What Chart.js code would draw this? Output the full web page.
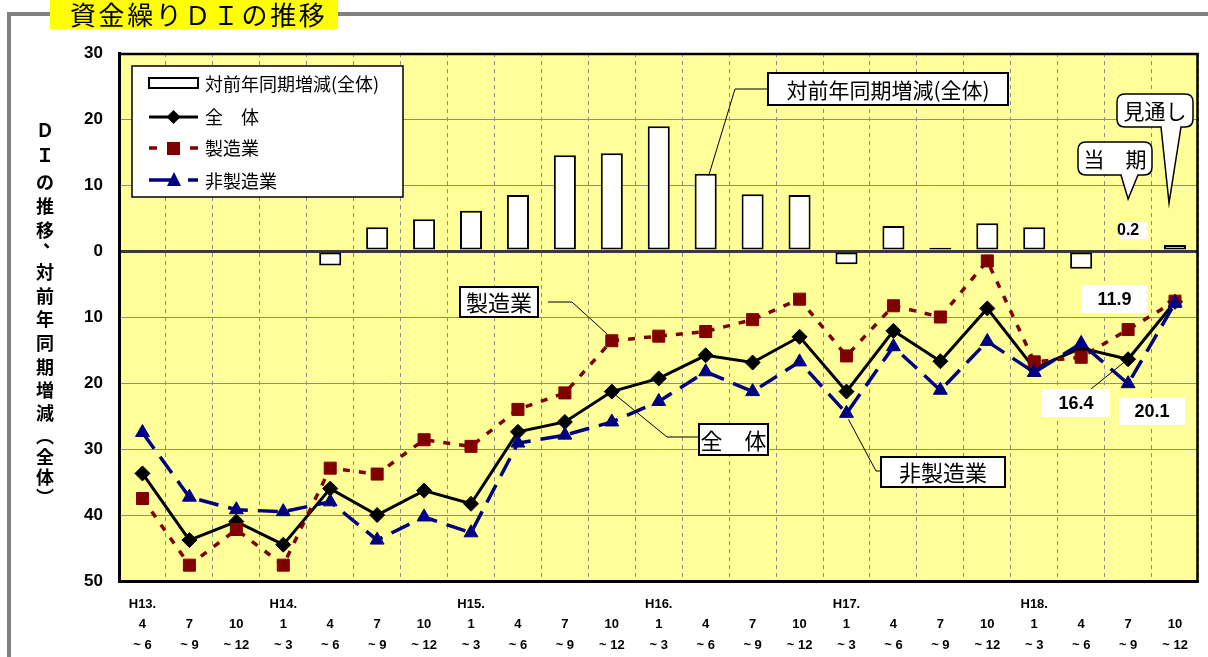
<!DOCTYPE html>
<html><head><meta charset="utf-8">
<script src="https://cdn.jsdelivr.net/npm/chart.js@4/dist/chart.umd.min.js"></script>
<style>html,body{margin:0;padding:0;background:#fff;}canvas{display:block}</style>
</head><body>
<canvas id="c" width="1208" height="657"></canvas>
<script>
// ---- data ----
const yearLabels  = ['H13.','','','H14.','','','','H15.','','','','H16.','','','','H17.','','','','H18.','','',''];
const startLabels = ['4','7','10','1','4','7','10','1','4','7','10','1','4','7','10','1','4','7','10','1','4','7','10'];
const endLabels   = ['~ 6','~ 9','~ 12','~ 3','~ 6','~ 9','~ 12','~ 3','~ 6','~ 9','~ 12','~ 3','~ 6','~ 9','~ 12','~ 3','~ 6','~ 9','~ 12','~ 3','~ 6','~ 9','~ 12'];
const yTicks = [30,20,10,0,-10,-20,-30,-40,-50];

// 対前年同期増減（全体）
const changeAll = [null,null,null,null,-2.2,3.6,4.8,6.1,8.5,14.5,14.8,18.9,11.7,8.6,8.5,-2.0,3.8,0.5,4.2,3.6,-2.7,0.2,0.9];
// 全体
const diAll    = [-33.7,-43.8,-41.0,-44.5,-36.0,-40.0,-36.3,-38.3,-27.4,-25.9,-21.3,-19.3,-15.8,-16.9,-13.0,-21.3,-12.1,-16.7,-8.7,-17.8,-14.7,-16.4,-7.7];
// 製造業
const diMfg    = [-37.5,-47.6,-42.2,-47.6,-32.9,-33.8,-28.6,-29.6,-24.0,-21.5,-13.6,-12.9,-12.2,-10.4,-7.3,-15.9,-8.3,-10.0,-1.5,-16.8,-16.1,-11.9,-7.6];
// 非製造業
const diNonMfg = [-27.5,-37.3,-39.2,-39.5,-38.0,-43.8,-40.3,-42.7,-29.1,-27.9,-25.9,-22.8,-18.3,-21.3,-16.8,-24.6,-14.5,-21.1,-13.7,-18.4,-14.0,-20.1,-7.9];

const seriesNames = ['対前年同期増減(全体)','全　体','製造業','非製造業'];
const titleText = '資金繰りＤＩの推移';
const yTitleChars = ['Ｄ','Ｉ','の','推','移','、','対','前','年','同','期','増','減','︵','全','体','︶'];

const labels = startLabels.map((s,i)=>[yearLabels[i], s, endLabels[i]]);

const JP = '"Noto Sans CJK JP","Noto Sans",sans-serif';
const NUM = '"Liberation Sans",Arial,sans-serif';
const RED = '#800000', NAVY = '#000080';

function poly(ctx, pts, w, color){
  ctx.save(); ctx.beginPath(); ctx.lineWidth = w||1; ctx.strokeStyle = color||'#000';
  ctx.moveTo(pts[0][0], pts[0][1]);
  for (let i=1;i<pts.length;i++) ctx.lineTo(pts[i][0], pts[i][1]);
  ctx.stroke(); ctx.restore();
}
function textBox(ctx, x, y, w, h, text, font, border){
  ctx.save();
  ctx.fillStyle = '#fff'; ctx.fillRect(x, y, w, h);
  if (border){ ctx.lineWidth = 2; ctx.strokeStyle = '#000'; ctx.strokeRect(x, y, w, h); }
  ctx.fillStyle = '#000'; ctx.font = font; ctx.textAlign = 'center'; ctx.textBaseline = 'middle';
  ctx.fillText(text, x + w/2, y + h/2 + 1);
  ctx.restore();
}
function bubble(ctx, x, y, w, h, tail, text){
  const r = 8;
  ctx.save();
  ctx.beginPath();
  ctx.moveTo(x + r, y);
  ctx.lineTo(x + w - r, y); ctx.quadraticCurveTo(x + w, y, x + w, y + r);
  ctx.lineTo(x + w, y + h - r); ctx.quadraticCurveTo(x + w, y + h, x + w - r, y + h);
  ctx.lineTo(tail[2], y + h);
  ctx.lineTo(tail[3], tail[4]);
  ctx.lineTo(tail[0], y + h);
  ctx.lineTo(x + r, y + h); ctx.quadraticCurveTo(x, y + h, x, y + h - r);
  ctx.lineTo(x, y + r); ctx.quadraticCurveTo(x, y, x + r, y);
  ctx.closePath();
  ctx.fillStyle = '#fff'; ctx.fill();
  ctx.lineWidth = 1.5; ctx.strokeStyle = '#000'; ctx.stroke();
  ctx.fillStyle = '#000'; ctx.font = '21px ' + JP; ctx.textAlign = 'center'; ctx.textBaseline = 'middle';
  ctx.fillText(text, x + w/2, y + h/2 + 1);
  ctx.restore();
}

const decor = {
  id: 'decor',
  beforeDraw(chart){
    const {ctx, chartArea:a} = chart;
    ctx.save();
    ctx.fillStyle = '#fff'; ctx.fillRect(0,0,chart.width,chart.height);
    ctx.fillStyle = '#FFFF99'; ctx.fillRect(a.left, a.top, a.right-a.left, a.bottom-a.top);
    ctx.restore();
  },
  afterDraw(chart){
    const {ctx, chartArea:a} = chart;
    const xs = chart.scales.x, ys = chart.scales.y;
    const X = i => xs.getPixelForValue(i), Y = v => ys.getPixelForValue(v);
    ctx.save();
    // plot frame top/right
    poly(ctx, [[a.left, a.top+1],[a.right-1, a.top+1],[a.right-1, a.bottom]], 2.5, '#000');

    // outer grey frame and title
    poly(ctx, [[9, 657],[9, 14],[50, 14]], 4, '#808080');
    poly(ctx, [[338, 14],[1208, 14]], 4, '#808080');
    ctx.fillStyle = '#FFFF00'; ctx.fillRect(50, 0, 288, 29);
    ctx.fillStyle = '#000'; ctx.font = '26px ' + JP; ctx.textAlign = 'center'; ctx.textBaseline = 'middle';
    [...titleText].forEach((ch, i) => ctx.fillText(ch, 83 + i*28.6, 15));

    // vertical y-axis title
    ctx.font = 'bold 18px ' + JP;
    const yPos = [130,155,182,206,230,244,272,296,319,343,367,390,413,436,457,477,497];
    yTitleChars.forEach((ch,i)=>{
      if (ch === '、') { ctx.fillText(ch, 52, yPos[i]-4); }
      else ctx.fillText(ch, 45, yPos[i]);
    });

    // legend
    ctx.fillStyle = '#fff'; ctx.fillRect(132, 66, 271, 131);
    ctx.lineWidth = 1.5; ctx.strokeStyle = '#000'; ctx.strokeRect(132, 66, 271, 131);
    ctx.fillStyle = '#fff'; ctx.fillRect(149, 78, 49, 10);
    ctx.lineWidth = 2; ctx.strokeRect(149, 78, 49, 10);
    poly(ctx, [[149,117],[198,117]], 3, '#000');
    ctx.fillStyle = '#000'; ctx.beginPath();
    ctx.moveTo(173.5,110); ctx.lineTo(180.5,117); ctx.lineTo(173.5,124); ctx.lineTo(166.5,117); ctx.closePath(); ctx.fill();
    poly(ctx, [[149,148],[157,148]], 3.5, RED);
    poly(ctx, [[190,148],[198,148]], 3.5, RED);
    ctx.fillStyle = RED; ctx.fillRect(167, 142, 13, 13);
    poly(ctx, [[149,180],[175,180]], 3.5, NAVY);
    poly(ctx, [[188,180],[198,180]], 3.5, NAVY);
    ctx.fillStyle = NAVY; ctx.beginPath();
    ctx.moveTo(174,172); ctx.lineTo(181,186); ctx.lineTo(167,186); ctx.closePath(); ctx.fill();
    ctx.fillStyle = '#000'; ctx.font = '18px ' + JP; ctx.textAlign = 'left'; ctx.textBaseline = 'middle';
    ctx.fillText(seriesNames[0], 205, 84);
    ctx.fillText(seriesNames[1], 205, 117);
    ctx.fillText(seriesNames[2], 205, 148);
    ctx.fillText(seriesNames[3], 205, 181);

    // callouts with leader lines
    poly(ctx, [[768,89],[735,89],[X(12)+3, Y(changeAll[12])+2]], 1, '#000');
    textBox(ctx, 768, 73, 240, 32, seriesNames[0], '21px ' + JP, true);

    poly(ctx, [[548,302],[572,302],[X(10)-5, Y(diMfg[10])-7]], 1, '#000');
    textBox(ctx, 460, 287, 78, 30, seriesNames[2], '22px ' + JP, true);

    poly(ctx, [[X(10)+2, Y(diAll[10])+2],[667,437],[699,437]], 1, '#000');
    textBox(ctx, 699, 424, 69, 31, seriesNames[1], '22px ' + JP, true);

    poly(ctx, [[X(15)+2, Y(diNonMfg[15])+6],[876,471],[881,471]], 1, '#000');
    textBox(ctx, 881, 457, 124, 30, seriesNames[3], '22px ' + JP, true);

    // value labels
    ctx.fillStyle = '#fff'; ctx.fillRect(1120, 222, 27, 17);
    ctx.fillStyle = '#000'; ctx.font = 'bold 16px ' + NUM; ctx.textAlign = 'center'; ctx.textBaseline = 'middle';
    ctx.fillText(String(changeAll[21]), X(21), 231);

    textBox(ctx, 1082, 285, 65, 28, Math.abs(diMfg[21]).toFixed(1), 'bold 18px ' + NUM, false);
    poly(ctx, [[1091,389],[X(21)-4, Y(diAll[21])+3]], 1, '#000');
    textBox(ctx, 1042, 389, 68, 28, Math.abs(diAll[21]).toFixed(1), 'bold 18px ' + NUM, false);
    textBox(ctx, 1119, 398, 66, 27, Math.abs(diNonMfg[21]).toFixed(1), 'bold 18px ' + NUM, false);

    // speech bubbles
    bubble(ctx, 1078, 142, 74, 33, [1121, 0, 1138, X(21), 199], '当　期');
    bubble(ctx, 1117, 94, 76, 33, [1161, 0, 1181, X(22)-6, 203], '見通し');
    ctx.restore();
  }
};

new Chart(document.getElementById('c'), {
  data: {
    labels: labels,
    datasets: [
      { type:'bar', label: seriesNames[0], data: changeAll, backgroundColor:'#fff', borderColor:'#000',
        borderWidth:2, borderSkipped:false, categoryPercentage:0.47, barPercentage:1, order:4 },
      { type:'line', label: seriesNames[1], data: diAll, borderColor:'#000', borderWidth:3, tension:0,
        pointStyle:'rectRot', pointRadius:7.5, pointBackgroundColor:'#000', pointBorderColor:'#000', pointBorderWidth:1, order:3 },
      { type:'line', label: seriesNames[2], data: diMfg, borderColor:RED, borderWidth:3.5, borderDash:[7,9], tension:0,
        pointStyle:'rect', pointRadius:8.5, pointBackgroundColor:RED, pointBorderColor:RED, pointBorderWidth:1, order:2 },
      { type:'line', label: seriesNames[3], data: diNonMfg, borderColor:NAVY, borderWidth:3.5, borderDash:[20,10], tension:0,
        pointStyle:'triangle', pointRadius:8, pointBackgroundColor:NAVY, pointBorderColor:NAVY, pointBorderWidth:1, order:1 }
    ]
  },
  options: {
    responsive:false, animation:false, devicePixelRatio:1,
    layout:{ padding:{ top:53, right:5, left:0, bottom:0 } },
    plugins:{ legend:{display:false}, tooltip:{enabled:false} },
    scales:{
      x:{
        offset:true,
        grid:{ offset:true, color:'#8c8c8c', lineWidth:1, drawTicks:false },
        border:{ color:'#000', width:3, dash:[4,4] },
        ticks:{ autoSkip:false, maxRotation:0, minRotation:0, padding:13, color:'#000',
          font:{ family: NUM, size:13, weight:'bold', lineHeight:1.58 } },
        afterFit(s){ s.height = 76; }
      },
      y:{
        min:-50, max:30,
        afterBuildTicks(s){ s.ticks = yTicks.map(v=>({value:v})); },
        grid:{ drawTicks:false,
          color: c => c.tick && c.tick.value === 0 ? '#3a3a3a' : '#8c8c8c',
          lineWidth: c => c.tick && c.tick.value === 0 ? 3 : 1 },
        border:{ color:'#000', width:3 },
        ticks:{ padding:16, color:'#000', callback: v => Math.abs(v),
          font:{ family: NUM, size:17, weight:'bold' } },
        afterFit(s){ s.width = 119; }
      }
    }
  },
  plugins:[decor]
});
</script>
</body></html>
